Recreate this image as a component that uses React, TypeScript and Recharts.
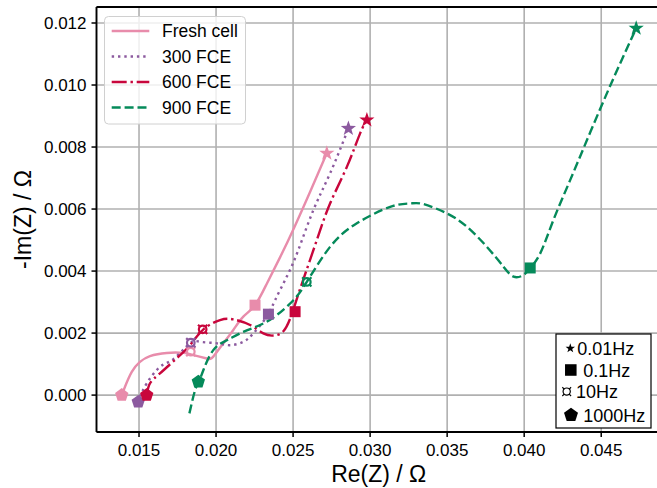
import React from 'react'
import { ComposedChart, Line, Scatter, XAxis, YAxis, CartesianGrid, ReferenceLine } from 'recharts'

const FONT = "'Liberation Sans', Arial, Helvetica, sans-serif"

// Nyquist curves: Re(Z) and -Im(Z) in ohm
const freshRe = [0.01388, 0.01409, 0.01453, 0.01506, 0.01571, 0.0168, 0.01788, 0.01853, 0.0194, 0.01982, 0.02047, 0.02112, 0.02177, 0.02253, 0.02331, 0.02416, 0.02506, 0.0261, 0.02719]
const freshIm = [0.0, 0.00027, 0.00075, 0.00107, 0.00126, 0.00136, 0.00136, 0.00129, 0.00118, 0.00124, 0.00167, 0.0021, 0.00253, 0.0029, 0.00361, 0.00445, 0.00539, 0.00655, 0.0078]

const fce300Re = [0.01506, 0.0155, 0.01636, 0.01723, 0.01831, 0.01896, 0.02005, 0.02091, 0.02177, 0.02242, 0.02329, 0.02383, 0.02459, 0.02534, 0.02632, 0.0274, 0.02859]
const fce300Im = [-0.00005, 0.00038, 0.00091, 0.00116, 0.00167, 0.00172, 0.00167, 0.00161, 0.00172, 0.00199, 0.00253, 0.00306, 0.00382, 0.00468, 0.00597, 0.00715, 0.0086]

const fce600Re = [0.0155, 0.01571, 0.01636, 0.01745, 0.01831, 0.01918, 0.02026, 0.02112, 0.02221, 0.02307, 0.02372, 0.02437, 0.02487, 0.02526, 0.02565, 0.02654, 0.0274, 0.02849, 0.02935, 0.02979]
const fce600Im = [0.0, 0.00038, 0.0007, 0.00119, 0.00161, 0.00212, 0.00242, 0.00244, 0.00226, 0.00199, 0.00192, 0.00206, 0.00255, 0.00313, 0.00371, 0.005, 0.00618, 0.00736, 0.00844, 0.00887]

const fce900Re = [0.01827, 0.01864, 0.0189, 0.01918, 0.01982, 0.0207, 0.02177, 0.02286, 0.02394, 0.02502, 0.02589, 0.0274, 0.02914, 0.0313, 0.0326, 0.03346, 0.03498, 0.03628, 0.03758, 0.03866, 0.03931, 0.03995, 0.04039, 0.04104, 0.0419, 0.04299, 0.04435, 0.0458, 0.04727]
const fce900Im = [-0.00059, 0.00016, 0.00045, 0.00081, 0.00145, 0.00177, 0.00204, 0.00226, 0.00258, 0.00306, 0.00365, 0.00478, 0.00554, 0.00607, 0.00618, 0.00616, 0.00586, 0.00543, 0.00478, 0.00414, 0.00382, 0.00387, 0.0041, 0.00457, 0.00565, 0.00694, 0.00855, 0.01022, 0.01183]

// measured points at 0.01Hz, 0.1Hz, 10Hz, 1000Hz
const freqLabels = ['0.01Hz', '0.1Hz', '10Hz', '1000Hz']
const freqShapes = ['star', 'square', 'currency', 'pentagon']
const freshMarkRe = [0.02719, 0.02253, 0.01836, 0.01388]
const freshMarkIm = [0.0078, 0.0029, 0.0014, 0.0]
const fce300MarkRe = [0.02859, 0.0234, 0.01836, 0.01495]
const fce300MarkIm = [0.0086, 0.00261, 0.00169, -0.00022]
const fce600MarkRe = [0.02979, 0.02513, 0.01913, 0.0155]
const fce600MarkIm = [0.00887, 0.00269, 0.00212, 0.0]
const fce900MarkRe = [0.04727, 0.04039, 0.02589, 0.01885]
const fce900MarkIm = [0.01183, 0.0041, 0.00365, 0.00043]

const xTicks = [0.015, 0.02, 0.025, 0.03, 0.035, 0.04, 0.045]
const yTicks = [0, 0.002, 0.004, 0.006, 0.008, 0.01, 0.012]
const X_MIN = 0.01224
const X_MAX = 0.04888
const Y_MIN = -0.00119
const Y_MAX = 0.012516

const zip = (re: number[], im: number[]) => re.map((x, i) => ({ x, y: im[i] }))
const marks = (re: number[], im: number[]) => re.map((x, i) => ({ x, y: im[i], kind: freqShapes[i] }))

const series = [
  { name: 'Fresh cell', color: '#e88cab', dash: undefined, curve: zip(freshRe, freshIm), marks: marks(freshMarkRe, freshMarkIm) },
  { name: '300 FCE', color: '#8c5a9f', dash: '2.4 3.9', curve: zip(fce300Re, fce300Im), marks: marks(fce300MarkRe, fce300MarkIm) },
  { name: '600 FCE', color: '#c8063c', dash: '15 3.8 2.4 3.8', curve: zip(fce600Re, fce600Im), marks: marks(fce600MarkRe, fce600MarkIm) },
  { name: '900 FCE', color: '#058a5a', dash: '9 3.9', curve: zip(fce900Re, fce900Im), marks: marks(fce900MarkRe, fce900MarkIm) },
]

function ring(cx: number, cy: number, n: number, R: number, r?: number) {
  const pts: string[] = []
  const count = r ? n * 2 : n
  for (let i = 0; i < count; i++) {
    const a = -Math.PI / 2 + (i * 2 * Math.PI) / count
    const rad = r && i % 2 === 1 ? r : R
    pts.push(`${cx + rad * Math.cos(a)},${cy + rad * Math.sin(a)}`)
  }
  return pts.join(' ')
}

function Marker({ kind, cx, cy, color, s = 1, sw = 2.2 }: { kind: string; cx: number; cy: number; color: string; s?: number; sw?: number }) {
  if (kind === 'star') return <polygon points={ring(cx, cy, 5, 8 * s, 3.2 * s)} fill={color} />
  if (kind === 'square') return <rect x={cx - 5.5 * s} y={cy - 5.5 * s} width={11 * s} height={11 * s} fill={color} />
  if (kind === 'pentagon') return <polygon points={ring(cx, cy, 5, 7 * s)} fill={color} />
  const d = [45, 135, 225, 315].map((deg) => {
    const a = (deg * Math.PI) / 180
    return `M${cx + 3.4 * s * Math.cos(a)},${cy + 3.4 * s * Math.sin(a)}L${cx + 6.5 * s * Math.cos(a)},${cy + 6.5 * s * Math.sin(a)}`
  }).join('')
  return (
    <g stroke={color} strokeWidth={sw} fill="none">
      <circle cx={cx} cy={cy} r={3.8 * s} />
      <path d={d} />
    </g>
  )
}

export default function App() {
  return (
    <div style={{ position: 'fixed', left: 0, top: 0, width: 657, height: 488, overflow: 'hidden', background: '#fff', fontFamily: FONT }}>
      <ComposedChart width={665} height={488} margin={{ top: 7, right: 4, left: 0, bottom: 0 }}>
        <CartesianGrid stroke="#b0b0b0" strokeWidth={1.6} />
        <XAxis
          type="number"
          dataKey="x"
          domain={[X_MIN, X_MAX]}
          ticks={xTicks}
          allowDataOverflow
          height={56}
          tickFormatter={(v: number) => v.toFixed(3)}
          tick={{ fill: '#000', fontSize: 17, fontFamily: FONT }}
          tickSize={5}
          tickMargin={7}
          tickLine={{ stroke: '#000', strokeWidth: 1.5 }}
          axisLine={{ stroke: '#000', strokeWidth: 1.8 }}
        />
        <YAxis
          type="number"
          dataKey="y"
          domain={[Y_MIN, Y_MAX]}
          ticks={yTicks}
          allowDataOverflow
          width={96.5}
          tickFormatter={(v: number) => v.toFixed(3)}
          tick={{ fill: '#000', fontSize: 17, fontFamily: FONT }}
          tickSize={5}
          tickMargin={5}
          tickLine={{ stroke: '#000', strokeWidth: 1.5 }}
          axisLine={{ stroke: '#000', strokeWidth: 1.8 }}
        />
        <ReferenceLine y={Y_MAX} stroke="#000" strokeWidth={1.8} />
        {series.map((s) => (
          <Line
            key={s.name}
            data={s.curve}
            dataKey="y"
            type="natural"
            stroke={s.color}
            strokeWidth={2.4}
            strokeDasharray={s.dash}
            dot={false}
            activeDot={false}
            isAnimationActive={false}
          />
        ))}
        {series.map((s) => (
          <Scatter
            key={s.name + '-marks'}
            data={s.marks}
            dataKey="y"
            isAnimationActive={false}
            shape={(p: any) => <Marker kind={p.payload?.kind ?? p.kind} cx={p.cx} cy={p.cy} color={s.color} />}
          />
        ))}
      </ComposedChart>

      <svg width={657} height={488} style={{ position: 'absolute', left: 0, top: 0, pointerEvents: 'none' }} fontFamily={FONT}>
        <text x={378.7} y={481.5} textAnchor="middle" fontSize={23} fill="#000">Re(Z) / Ω</text>
        <text transform="translate(30.5,219.5) rotate(-90)" textAnchor="middle" fontSize={23} fill="#000">-Im(Z) / Ω</text>

        <rect x={104.5} y={16.5} width={141} height={107.5} rx={4} fill="rgba(255,255,255,0.8)" stroke="#d0d0d0" />
        {series.map((s, i) => {
          const cy = 31 + i * 25.5
          return (
            <g key={s.name}>
              <line x1={111.7} x2={149.3} y1={cy} y2={cy} stroke={s.color} strokeWidth={2.4} strokeDasharray={s.dash} />
              <text x={162} y={cy + 6.2} fontSize={17.5} fill="#000">{s.name}</text>
            </g>
          )
        })}

        <rect x={556} y={334} width={95} height={94} fill="#fff" stroke="#000" strokeWidth={1.2} />
        {freqLabels.map((label, i) => {
          const base = [355, 376.7, 398.3, 421.7][i]
          const sx = [570.3, 570.8, 566.7, 571][i]
          const tx = [577.3, 583.3, 576, 583.3][i]
          const sc = [0.62, 1.05, 0.95, 1.05][i]
          return (
            <g key={label}>
              <Marker kind={freqShapes[i]} cx={sx} cy={base - 6.7} color="#000" s={sc} sw={1.2} />
              <text x={tx} y={base} fontSize={18} fill="#000">{label}</text>
            </g>
          )
        })}
      </svg>
    </div>
  )
}
